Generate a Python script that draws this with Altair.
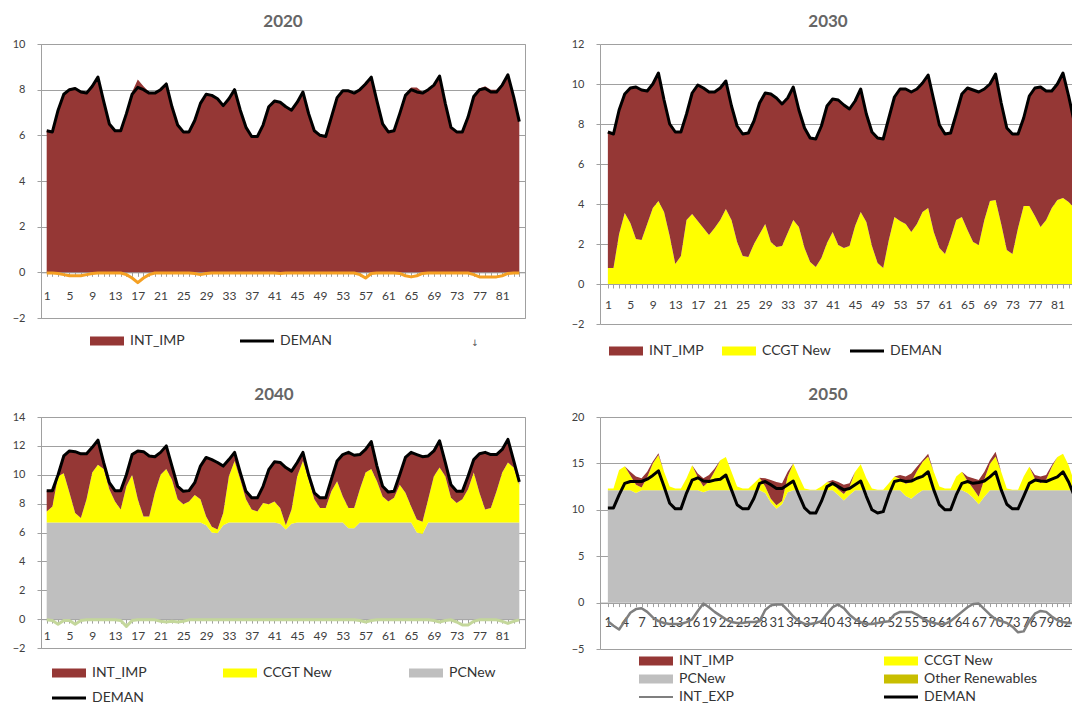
import altair as alt
import pandas as pd

# ---------------- data ----------------
PERIODS = list(range(1, 85))

DEMAN_2020 = [
    6.2, 6.15, 7.1, 7.8, 8.0, 8.05, 7.9, 7.85, 8.15, 8.55, 7.5, 6.5,
    6.2, 6.2, 6.95, 7.8, 8.1, 8.0, 7.85, 7.85, 8.0, 8.25, 7.25, 6.45,
    6.15, 6.15, 6.65, 7.4, 7.8, 7.75, 7.6, 7.3, 7.6, 8.0, 7.1, 6.35,
    5.95, 5.95, 6.45, 7.25, 7.5, 7.45, 7.25, 7.1, 7.45, 7.9, 6.95, 6.2,
    6.0, 5.95, 6.8, 7.65, 7.95, 7.95, 7.85, 8.0, 8.25, 8.55, 7.5, 6.5,
    6.15, 6.2, 6.95, 7.75, 8.0, 7.9, 7.85, 8.0, 8.2, 8.6, 7.4, 6.35,
    6.15, 6.15, 6.8, 7.7, 8.0, 8.05, 7.9, 7.9, 8.2, 8.65, 7.7, 6.6]
INT_IMP_2020 = [
    6.2, 6.15, 7.1, 7.8, 8.05, 8.1, 7.95, 7.9, 8.15, 8.55, 7.5, 6.5,
    6.2, 6.2, 6.95, 7.9, 8.45, 8.15, 7.9, 7.85, 8.0, 8.25, 7.25, 6.45,
    6.15, 6.15, 6.65, 7.45, 7.8, 7.75, 7.6, 7.3, 7.6, 8.0, 7.1, 6.35,
    5.95, 5.95, 6.45, 7.25, 7.5, 7.45, 7.25, 7.1, 7.45, 7.9, 6.95, 6.2,
    6.0, 5.95, 6.8, 7.65, 7.95, 7.95, 7.85, 8.0, 8.35, 8.55, 7.5, 6.5,
    6.15, 6.2, 6.95, 7.8, 8.1, 8.1, 7.9, 8.0, 8.2, 8.6, 7.4, 6.35,
    6.15, 6.15, 6.8, 7.7, 8.05, 8.15, 8.0, 8.0, 8.25, 8.65, 7.7, 6.6]
ORANGE_2020 = [
    -0.03, -0.03, -0.05, -0.1, -0.15, -0.15, -0.15, -0.1, -0.05, -0.03, -0.03, -0.03,
    -0.03, -0.03, -0.1, -0.25, -0.45, -0.25, -0.1, -0.03, -0.03, -0.03, -0.03, -0.03,
    -0.03, -0.03, -0.05, -0.1, -0.05, -0.03, -0.03, -0.03, -0.03, -0.03, -0.03, -0.03,
    -0.03, -0.03, -0.03, -0.03, -0.03, -0.05, -0.03, -0.03, -0.03, -0.03, -0.03, -0.03,
    -0.03, -0.03, -0.03, -0.03, -0.03, -0.03, -0.03, -0.1, -0.25, -0.05, -0.03, -0.03,
    -0.03, -0.03, -0.05, -0.15, -0.2, -0.15, -0.05, -0.03, -0.03, -0.03, -0.03, -0.03,
    -0.03, -0.03, -0.03, -0.1, -0.2, -0.2, -0.2, -0.2, -0.15, -0.05, -0.03, -0.03]

DEMAN_2030 = [
    7.6, 7.5, 8.7, 9.5, 9.8, 9.85, 9.7, 9.65, 10.0, 10.55, 9.2, 8.0,
    7.6, 7.6, 8.5, 9.55, 9.95, 9.8, 9.6, 9.6, 9.8, 10.15, 8.9, 7.9,
    7.5, 7.55, 8.15, 9.05, 9.55, 9.5, 9.3, 9.0, 9.3, 9.85, 8.7, 7.8,
    7.3, 7.25, 7.9, 8.9, 9.25, 9.2, 8.95, 8.75, 9.15, 9.75, 8.5, 7.6,
    7.3, 7.25, 8.3, 9.35, 9.75, 9.75, 9.6, 9.75, 10.05, 10.45, 9.2, 7.95,
    7.5, 7.55, 8.5, 9.5, 9.8, 9.7, 9.6, 9.75, 10.0, 10.5, 9.05, 7.8,
    7.5, 7.5, 8.3, 9.4, 9.8, 9.85, 9.65, 9.65, 10.0, 10.55, 9.4, 8.1]
CCGT_2030 = [
    0.8, 0.8, 2.5, 3.55, 3.05, 2.25, 2.2, 3.0, 3.8, 4.15, 3.6, 2.4,
    1.0, 1.4, 3.2, 3.5, 3.15, 2.8, 2.45, 2.8, 3.2, 3.75, 3.2, 2.1,
    1.4, 1.35, 2.0, 2.5, 3.0, 2.1, 1.85, 1.9, 2.55, 3.2, 2.85, 1.8,
    1.1, 0.85, 1.3, 2.05, 2.6, 1.95, 1.8, 1.9, 2.9, 3.6, 3.1, 1.9,
    1.05, 0.8, 2.2, 3.35, 3.15, 3.0, 2.6, 3.0, 3.6, 3.8, 2.6, 1.8,
    1.5, 2.3, 3.2, 3.35, 2.7, 2.1, 1.95, 3.2, 4.15, 4.2, 3.0, 1.7,
    1.5, 2.8, 3.9, 3.9, 3.4, 2.85, 3.2, 3.8, 4.2, 4.3, 4.1, 3.8]
INT_IMP_2030 = [
    6.8, 6.7, 6.2, 5.95, 6.75, 7.6, 7.5, 6.65, 6.2, 6.4, 5.6, 5.6,
    6.6, 6.2, 5.3, 6.05, 6.8, 7.0, 7.15, 6.8, 6.6, 6.4, 5.7, 5.8,
    6.1, 6.2, 6.15, 6.55, 6.55, 7.4, 7.45, 7.1, 6.75, 6.65, 5.85, 6.0,
    6.2, 6.4, 6.6, 6.85, 6.65, 7.25, 7.15, 6.85, 6.25, 6.15, 5.4, 5.7,
    6.25, 6.45, 6.1, 6.0, 6.6, 6.75, 7.0, 6.75, 6.45, 6.65, 6.6, 6.15,
    6.0, 5.25, 5.3, 6.15, 7.1, 7.6, 7.65, 6.55, 5.85, 6.3, 6.05, 6.1,
    6.0, 4.7, 4.4, 5.5, 6.4, 7.0, 6.45, 5.85, 5.8, 6.25, 5.3, 4.3]

DEMAN_2040 = [
    8.9, 8.9, 10.0, 11.3, 11.65, 11.6, 11.45, 11.45, 11.9, 12.4, 10.85, 9.45,
    8.9, 8.9, 10.0, 11.4, 11.65, 11.6, 11.3, 11.25, 11.55, 12.0, 10.6, 9.2,
    8.85, 8.9, 9.45, 10.6, 11.2, 11.05, 10.85, 10.6, 11.05, 11.55, 10.15, 8.85,
    8.4, 8.4, 9.2, 10.35, 10.9, 10.85, 10.5, 10.25, 10.85, 11.55, 10.0, 8.75,
    8.4, 8.4, 9.7, 10.95, 11.4, 11.55, 11.35, 11.4, 11.75, 12.3, 10.6, 9.2,
    8.8, 8.85, 10.0, 11.2, 11.55, 11.4, 11.25, 11.3, 11.65, 12.35, 10.85, 9.3,
    8.85, 8.85, 9.9, 11.05, 11.45, 11.55, 11.4, 11.4, 11.75, 12.45, 11.0, 9.5]
PCNEW_2040 = [
    6.7, 6.7, 6.7, 6.7, 6.7, 6.7, 6.7, 6.7, 6.7, 6.7, 6.7, 6.7,
    6.7, 6.7, 6.7, 6.7, 6.7, 6.7, 6.7, 6.7, 6.7, 6.7, 6.7, 6.7,
    6.7, 6.7, 6.7, 6.7, 6.5, 6.0, 5.95, 6.5, 6.7, 6.7, 6.7, 6.7,
    6.7, 6.7, 6.7, 6.7, 6.7, 6.6, 6.2, 6.6, 6.7, 6.7, 6.7, 6.7,
    6.7, 6.7, 6.7, 6.7, 6.7, 6.3, 6.3, 6.7, 6.7, 6.7, 6.7, 6.7,
    6.7, 6.7, 6.7, 6.7, 6.7, 6.0, 5.9, 6.7, 6.7, 6.7, 6.7, 6.7,
    6.7, 6.7, 6.7, 6.7, 6.7, 6.7, 6.7, 6.7, 6.7, 6.7, 6.7, 6.7]
CCGT_2040 = [
    0.75, 1.1, 3.2, 3.4, 2.05, 0.65, 0.3, 1.6, 3.45, 4.0, 3.7, 2.3,
    1.45, 0.9, 2.5, 3.3, 1.6, 0.4, 0.4, 2.05, 3.3, 3.7, 2.95, 1.6,
    1.25, 1.45, 1.9, 1.6, 0.6, 0.4, 0.25, 0.85, 3.2, 4.25, 2.95, 1.6,
    0.9, 0.75, 1.35, 1.25, 1.45, 1.1, 0.3, 1.0, 3.2, 4.25, 2.95, 1.6,
    1.0, 1.0, 2.15, 2.85, 1.8, 1.4, 1.4, 2.3, 3.45, 3.7, 2.85, 1.8,
    1.45, 1.7, 2.6, 2.05, 1.1, 0.9, 0.85, 1.6, 3.2, 3.8, 3.2, 1.7,
    1.35, 1.6, 2.3, 3.45, 2.05, 0.9, 1.0, 2.15, 3.45, 4.15, 3.8, 2.6]
INT_IMP_2040 = [
    1.45, 1.1, 0.1, 1.2, 2.9, 4.25, 4.45, 3.15, 1.75, 1.7, 0.45, 0.45,
    0.75, 1.3, 0.8, 1.4, 3.35, 4.5, 4.2, 2.5, 1.55, 1.6, 0.95, 0.9,
    0.9, 0.75, 0.85, 2.3, 4.1, 4.65, 4.65, 3.25, 1.15, 0.6, 0.5, 0.55,
    0.8, 0.95, 1.15, 2.4, 2.75, 3.15, 4.0, 2.65, 0.95, 0.6, 0.35, 0.45,
    0.7, 0.7, 0.85, 1.4, 2.9, 3.85, 3.65, 2.4, 1.6, 1.9, 1.05, 0.7,
    0.65, 0.45, 0.7, 2.45, 3.75, 4.5, 4.5, 3.0, 1.75, 1.85, 0.95, 0.9,
    0.8, 0.55, 0.9, 0.9, 2.7, 3.95, 3.7, 2.55, 1.6, 1.6, 0.5, 0.2]
GREEN_2040 = [
    -0.05, -0.1, -0.35, -0.1, -0.1, -0.35, -0.1, -0.05, -0.05, -0.05, -0.05, -0.05,
    -0.05, -0.1, -0.5, -0.1, -0.05, -0.05, -0.05, -0.05, -0.15, -0.2, -0.15, -0.2,
    -0.15, -0.05, -0.05, -0.05, -0.05, -0.05, -0.05, -0.05, -0.05, -0.05, -0.05, -0.05,
    -0.05, -0.05, -0.05, -0.05, -0.05, -0.05, -0.05, -0.05, -0.05, -0.05, -0.05, -0.05,
    -0.05, -0.05, -0.05, -0.05, -0.05, -0.05, -0.05, -0.1, -0.2, -0.1, -0.05, -0.05,
    -0.05, -0.05, -0.05, -0.05, -0.05, -0.05, -0.05, -0.05, -0.1, -0.2, -0.1, -0.05,
    -0.2, -0.4, -0.4, -0.15, -0.05, -0.05, -0.05, -0.05, -0.15, -0.3, -0.15, -0.05]

DEMAN_2050 = [
    10.2, 10.2, 11.6, 12.85, 13.05, 13.05, 13.05, 13.3, 13.7, 14.2, 12.5, 10.7,
    10.1, 10.1, 11.8, 13.2, 13.45, 13.1, 13.05, 13.2, 13.3, 13.75, 12.15, 10.55,
    10.1, 10.1, 11.25, 12.85, 13.05, 12.7, 12.3, 12.3, 12.7, 13.1, 11.6, 10.2,
    9.65, 9.65, 10.9, 12.5, 12.85, 12.5, 12.15, 12.3, 12.7, 13.1, 11.45, 10.0,
    9.65, 9.8, 11.6, 13.05, 13.2, 13.05, 13.1, 13.4, 13.6, 14.1, 12.15, 10.55,
    10.0, 10.0, 11.6, 12.85, 13.05, 12.85, 12.95, 13.1, 13.55, 14.1, 12.15, 10.6,
    10.1, 10.1, 11.45, 12.85, 13.2, 13.1, 13.05, 13.3, 13.55, 14.1, 13.0, 11.5]
PCNEW_2050 = [
    12.1, 12.1, 12.1, 12.1, 12.1, 11.8, 12.1, 12.1, 12.1, 12.1, 12.1, 12.1,
    12.1, 12.1, 12.1, 12.1, 12.1, 11.9, 12.1, 12.1, 12.1, 12.1, 12.1, 12.1,
    12.1, 12.1, 12.1, 12.1, 11.8, 10.8, 10.1, 10.6, 11.9, 12.1, 12.1, 12.1,
    12.1, 12.1, 12.1, 12.1, 12.1, 11.6, 11.0, 11.6, 12.1, 12.1, 12.1, 12.1,
    12.1, 12.1, 12.1, 12.1, 12.1, 11.5, 11.2, 11.7, 12.1, 12.1, 12.1, 12.1,
    12.1, 12.1, 12.1, 12.1, 11.8, 11.3, 10.6, 11.4, 12.1, 12.1, 12.1, 12.1,
    12.1, 12.1, 12.1, 12.1, 12.1, 12.1, 12.1, 12.1, 12.1, 12.1, 12.1, 12.1]
CCGT_2050 = [
    0.2, 0.2, 2.2, 2.6, 1.6, 0.9, 0.3, 1.4, 2.9, 3.8, 2.0, 0.4,
    0.2, 0.2, 1.3, 2.7, 1.4, 0.6, 0.95, 2.05, 3.25, 3.6, 2.0, 0.4,
    0.2, 0.2, 0.75, 1.35, 0.7, 0.4, 0.4, 0.35, 1.7, 2.9, 1.5, 0.2,
    0.05, 0.05, 0.4, 0.9, 0.8, 0.6, 0.7, 0.85, 2.0, 2.8, 1.3, 0.2,
    0.05, 0.05, 0.75, 1.5, 1.25, 1.3, 1.8, 2.45, 3.05, 3.65, 2.0, 0.4,
    0.2, 0.2, 1.5, 2.0, 1.3, 1.0, 0.8, 1.9, 2.85, 3.65, 2.0, 0.2,
    0.05, 0.05, 1.5, 2.55, 1.25, 0.8, 1.15, 2.5, 3.6, 3.95, 2.7, 0.9]
INT_IMP_2050 = [
    0, 0, 0, 0, 0.4, 0.9, 1.0, 0.6, 0.2, 0.2, 0, 0,
    0, 0, 0, 0, 0.4, 0.9, 0.7, 0.3, 0, 0, 0, 0,
    0, 0, 0, 0, 0.9, 2.0, 2.5, 1.9, 0.5, 0, 0, 0,
    0, 0, 0, 0, 0.3, 0.8, 1.0, 0.4, 0, 0, 0, 0,
    0, 0, 0, 0, 0.4, 0.8, 0.9, 0.5, 0.2, 0.3, 0, 0,
    0, 0, 0, 0, 0.5, 1.1, 1.8, 0.8, 0.4, 0.5, 0, 0,
    0, 0, 0, 0, 0.4, 0.7, 0.5, 0.2, 0, 0, 0, 0]
INT_EXP_2050 = [
    -2.0, -2.5, -2.9, -2.0, -1.1, -0.7, -0.6, -1.0, -1.6, -2.0, -2.2, -2.3,
    -2.3, -2.3, -2.1, -1.8, -0.9, -0.1, -0.5, -1.0, -1.4, -1.8, -2.1, -2.2,
    -2.2, -2.1, -2.1, -2.0, -0.8, -0.3, -0.2, -0.2, -0.8, -1.5, -2.0, -2.3,
    -2.3, -2.2, -2.0, -1.2, -0.5, -0.2, -0.6, -1.3, -1.8, -2.1, -2.3, -2.3,
    -2.2, -2.1, -2.0, -1.3, -1.0, -1.0, -1.0, -1.3, -1.7, -2.0, -2.2, -2.3,
    -2.3, -2.0, -1.5, -1.0, -0.5, -0.15, -0.1, -0.7, -1.3, -1.8, -2.0, -2.2,
    -2.6, -3.2, -3.1, -2.0, -1.2, -0.9, -1.0, -1.5, -1.9, -2.1, -2.2, -2.2]

LEGEND_2020 = ["INT_IMP", "DEMAN"]
LEGEND_2030 = ["INT_IMP", "CCGT New", "DEMAN"]
LEGEND_2040 = ["INT_IMP", "CCGT New", "PCNew", "DEMAN"]
LEGEND_2050 = ["INT_IMP", "CCGT New", "PCNew", "Other Renewables", "INT_EXP", "DEMAN"]

for _lst in [DEMAN_2020, INT_IMP_2020, ORANGE_2020, DEMAN_2030, CCGT_2030, INT_IMP_2030,
             DEMAN_2040, PCNEW_2040, CCGT_2040, INT_IMP_2040, GREEN_2040,
             DEMAN_2050, PCNEW_2050, CCGT_2050, INT_IMP_2050, INT_EXP_2050]:
    assert len(_lst) == 84, len(_lst)

# ---------------- styling ----------------
FONT = "Lato"
GRID = "#A0A0A0"
TEXT = "#404040"
COLORS = {"INT_IMP": "#953735", "CCGT New": "#FFFF00", "PCNew": "#BFBFBF",
          "Other Renewables": "#C8BE00", "INT_EXP": "#7F7F7F", "DEMAN": "#000000"}
RECT = "M-3.4,-0.9H3.4V0.9H-3.4Z"
SHAPES = {"INT_IMP": RECT, "CCGT New": RECT, "PCNew": RECT, "Other Renewables": RECT,
          "INT_EXP": "M-3.4,-0.2H3.4V0.2H-3.4Z", "DEMAN": "M-3.4,-0.3H3.4V0.3H-3.4Z"}
STACK_RANK = {"PCNew": 0, "Other Renewables": 1, "CCGT New": 2, "INT_IMP": 3}


def panel(year, areas, lines, legend_names, ydom, ystep, w, h, xdom, xmax_tick,
          label_every, label_pad, label_size, leg, title_dx, framed, extra=None):
    rows = []
    for name, vals in areas:
        for p, v in zip(PERIODS, vals):
            rows.append({"period": p, "series": name, "value": v, "rank": STACK_RANK[name]})
    adf = pd.DataFrame(rows)
    area_names = [name for name, _ in areas]

    xs = alt.Scale(domain=xdom, nice=False, zero=False)
    ys = alt.Scale(domain=ydom, nice=False, zero=False)
    off = -h * (0 - ydom[0]) / (ydom[1] - ydom[0])
    xaxis = alt.Axis(values=[p for p in PERIODS if p <= xmax_tick], format="d",
                     labelExpr=f"datum.value % {label_every} == 1 ? datum.label : ''",
                     grid=False, domainColor=GRID, tickColor=GRID, tickSize=4,
                     labelFont=FONT, labelFontSize=label_size, labelColor=TEXT,
                     labelPadding=label_pad, labelOverlap=False, labelFlush=False,
                     offset=off, title=None)
    yaxis = alt.Axis(values=list(range(ydom[0], ydom[1] + 1, ystep)), grid=True,
                     gridColor=GRID, domainColor=GRID, tickColor=GRID, tickSize=4,
                     labelPadding=12, labelFont=FONT, labelFontSize=11,
                     labelColor=TEXT, title=None, minExtent=30, maxExtent=30)
    X = alt.X("period:Q", scale=xs, axis=xaxis)
    Y = alt.Y("value:Q", scale=ys, axis=yaxis)

    area = alt.Chart(adf).mark_area(clip=True, interpolate="linear").encode(
        x=X,
        y=alt.Y("value:Q", scale=ys, axis=yaxis, stack="zero"),
        fill=alt.Fill("series:N", legend=None,
                      scale=alt.Scale(domain=area_names,
                                      range=[COLORS[n] for n in area_names])),
        order=alt.Order("rank:Q"),
    )
    layers = [area]
    for vals, color, width in lines:
        ldf = pd.DataFrame({"period": PERIODS, "value": vals})
        layers.append(
            alt.Chart(ldf).mark_line(clip=True, color=color, strokeWidth=width,
                                     strokeJoin="round").encode(x=X, y=Y)
        )

    legend = alt.Legend(orient="none", legendX=leg["x"], legendY=leg["y"], title=None,
                        columns=leg["columns"], columnPadding=leg["colpad"],
                        rowPadding=leg.get("rowpad", 2), gridAlign="each",
                        direction="horizontal",
                        symbolSize=100, symbolStrokeWidth=0, symbolOpacity=1,
                        labelOffset=16, labelFont=FONT, labelFontSize=14,
                        labelColor="#333333")
    # legend carrier: the series names only; no rows survive the filter, so no marks are drawn
    ldf = pd.DataFrame({"series": legend_names, "period": 1, "value": 0})
    layers.append(
        alt.Chart(ldf).transform_filter("datum.series == 'no-such-series'").mark_point(
            filled=True).encode(
            x=X, y=Y,
            color=alt.Color("series:N", legend=legend,
                            scale=alt.Scale(domain=legend_names,
                                            range=[COLORS[n] for n in legend_names])),
            shape=alt.Shape("series:N", legend=legend,
                            scale=alt.Scale(domain=legend_names,
                                            range=[SHAPES[n] for n in legend_names])),
        )
    )
    if extra is not None:
        layers.append(extra)

    view = (alt.ViewBackground(stroke=GRID, strokeWidth=1) if framed
            else alt.ViewBackground(strokeWidth=0))
    return alt.layer(*layers).properties(
        width=w, height=h, view=view,
        title=alt.TitleParams(year, font=FONT, fontSize=17, fontWeight="bold",
                              color="#666666", anchor="middle", frame="group",
                              offset=7, dx=title_dx),
    )


arrow = alt.Chart(pd.DataFrame({"t": ["\u2193"]})).mark_text(
    font="DejaVu Sans", fontSize=9, fill="#555555").encode(
    text="t:N", x=alt.value(434), y=alt.value(299))

LEFT_X = [0, 85]
RIGHT_X = [-0.4, 83.6]

p2020 = panel("2020", [("INT_IMP", INT_IMP_2020)],
              [(ORANGE_2020, "#F5A023", 3), (DEMAN_2020, "#000000", 3)],
              LEGEND_2020, (-2, 10), 2, 484, 274, LEFT_X, 84, 4, 14, 12,
              {"x": 59, "y": 290, "columns": 2, "colpad": 55}, 0, True, extra=arrow)
p2030 = panel("2030", [("CCGT New", CCGT_2030), ("INT_IMP", INT_IMP_2030)],
              [(DEMAN_2030, "#000000", 3)],
              LEGEND_2030, (-2, 12), 2, 472, 280, RIGHT_X, 83, 4, 11, 12,
              {"x": 19, "y": 300, "columns": 3, "colpad": 18}, -8, False)
p2040 = panel("2040", [("PCNew", PCNEW_2040), ("CCGT New", CCGT_2040), ("INT_IMP", INT_IMP_2040)],
              [(GREEN_2040, "#C4D79B", 3), (DEMAN_2040, "#000000", 3)],
              LEGEND_2040, (-2, 14), 2, 484, 231, LEFT_X, 84, 4, 7, 12,
              {"x": 21, "y": 249, "columns": 3, "colpad": 76, "rowpad": 11},
              -9, True)
p2050 = panel("2050", [("PCNew", PCNEW_2050), ("CCGT New", CCGT_2050), ("INT_IMP", INT_IMP_2050)],
              [(INT_EXP_2050, "#7F7F7F", 2.5), (DEMAN_2050, "#000000", 3)],
              LEGEND_2050, (-5, 20), 5, 472, 232, RIGHT_X, 83, 3, 10, 13,
              {"x": 49, "y": 237, "columns": 2, "colpad": 150, "rowpad": 4},
              -8, False)

chart = alt.concat(p2020, p2030, p2040, p2050, columns=2,
                   spacing={"row": 93, "column": 75}, bounds="flush").resolve_scale(
    color="independent", shape="independent", fill="independent").resolve_legend(
    color="independent", shape="independent").properties(
    padding={"left": 2, "top": 4, "right": 0, "bottom": 0}
).configure(font=FONT).configure_view(strokeWidth=0)

chart.save("out.html", embed_options={"renderer": "svg", "actions": False})
